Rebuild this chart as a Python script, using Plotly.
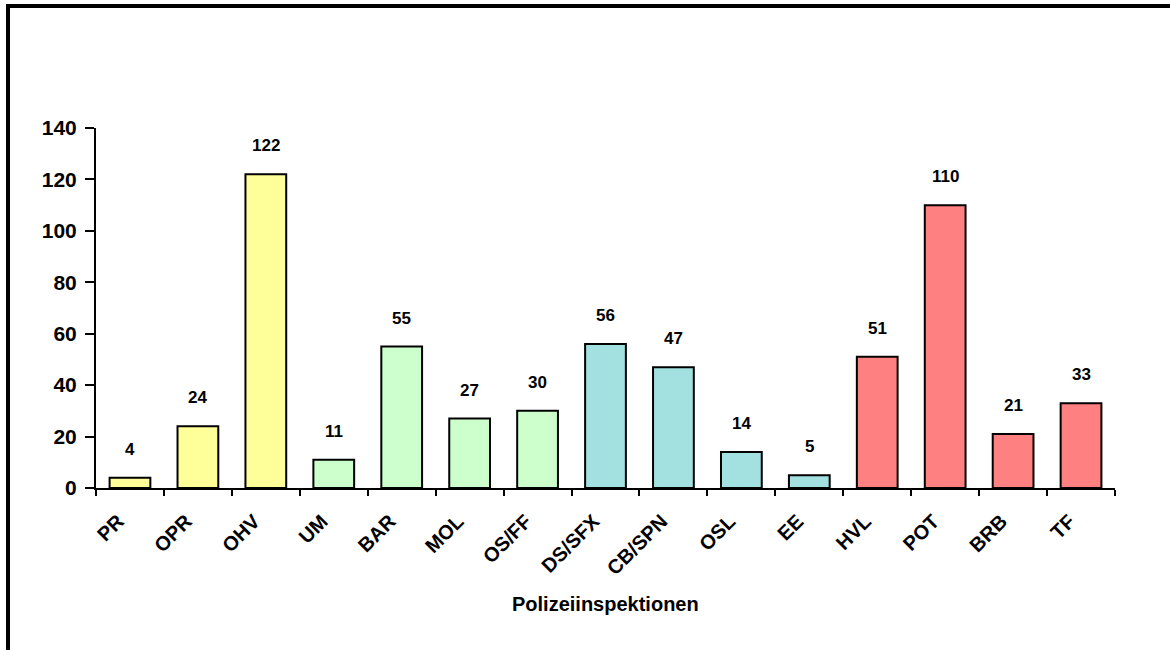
import plotly.graph_objects as go

# Polizeiinspektionen and their counts
categories = ["PR", "OPR", "OHV", "UM", "BAR", "MOL", "OS/FF", "DS/SFX",
              "CB/SPN", "OSL", "EE", "HVL", "POT", "BRB", "TF"]
values = [4, 24, 122, 11, 55, 27, 30, 56, 47, 14, 5, 51, 110, 21, 33]
groups = ["Nord", "Nord", "Nord", "Ost", "Ost", "Ost", "Ost", "Süd",
          "Süd", "Süd", "Süd", "West", "West", "West", "West"]
y_ticks = [0, 20, 40, 60, 80, 100, 120, 140]
x_title = "Polizeiinspektionen"

group_colors = {"Nord": "#FFFF99", "Ost": "#CCFFCC", "Süd": "#A3E0E0", "West": "#FF8080"}

W, H = 1170, 650
ML, MR, MT, MB = 96, 55, 128, 162
PW, PH = W - ML - MR, H - MT - MB


def px_x(x):
    return (x - ML) / PW


def px_y(y):
    return (H - MB - y) / PH


FONT = "Liberation Sans, Arial, sans-serif"

fig = go.Figure(
    go.Bar(
        x=categories,
        y=values,
        width=0.6,
        marker=dict(color=[group_colors[g] for g in groups],
                    line=dict(color="black", width=2)),
        hoverinfo="x+y",
    )
)

# value labels above the bars
for c, v in zip(categories, values):
    fig.add_annotation(x=c, y=v, text=f"<b>{v}</b>", showarrow=False,
                       yanchor="bottom", yshift=17,
                       font=dict(family=FONT, size=17, color="black"))

fig.add_annotation(x=px_x(605), y=px_y(604), xref="paper", yref="paper",
                   text=f"<b>{x_title}</b>", showarrow=False,
                   xanchor="center", yanchor="middle",
                   font=dict(family=FONT, size=20, color="black"))

# frame lines (top and left)
fig.add_shape(type="line", xref="paper", yref="paper",
              x0=px_x(6), x1=px_x(W), y0=px_y(6), y1=px_y(6),
              line=dict(color="black", width=4))
fig.add_shape(type="line", xref="paper", yref="paper",
              x0=px_x(8), x1=px_x(8), y0=px_y(4), y1=px_y(H),
              line=dict(color="black", width=4))

fig.update_layout(
    width=W, height=H,
    margin=dict(l=ML, r=MR, t=MT, b=MB, pad=0),
    paper_bgcolor="white", plot_bgcolor="white",
    showlegend=False,
    xaxis=dict(
        type="category", range=[-0.5, len(categories) - 0.5],
        showline=True, linecolor="black", linewidth=2,
        ticks="outside", tickson="boundaries", ticklen=6, tickwidth=2, tickcolor="black",
        tickangle=-45, showgrid=False, ticklabelstandoff=0,
        tickfont=dict(family=FONT, size=20, color="black"),
        tickprefix="<b>", ticksuffix="</b>\u00a0\u00a0\u00a0",
    ),
    yaxis=dict(
        range=[0, 140], tickvals=y_ticks,
        ticktext=[f"<b>{t}</b>" for t in y_ticks],
        showline=True, linecolor="black", linewidth=2,
        ticks="outside", ticklen=9, tickwidth=2, tickcolor="black",
        showgrid=False, zeroline=False, ticklabelstandoff=4,
        tickfont=dict(family=FONT, size=21, color="black"),
    ),
)

fig.write_html("out.html")
